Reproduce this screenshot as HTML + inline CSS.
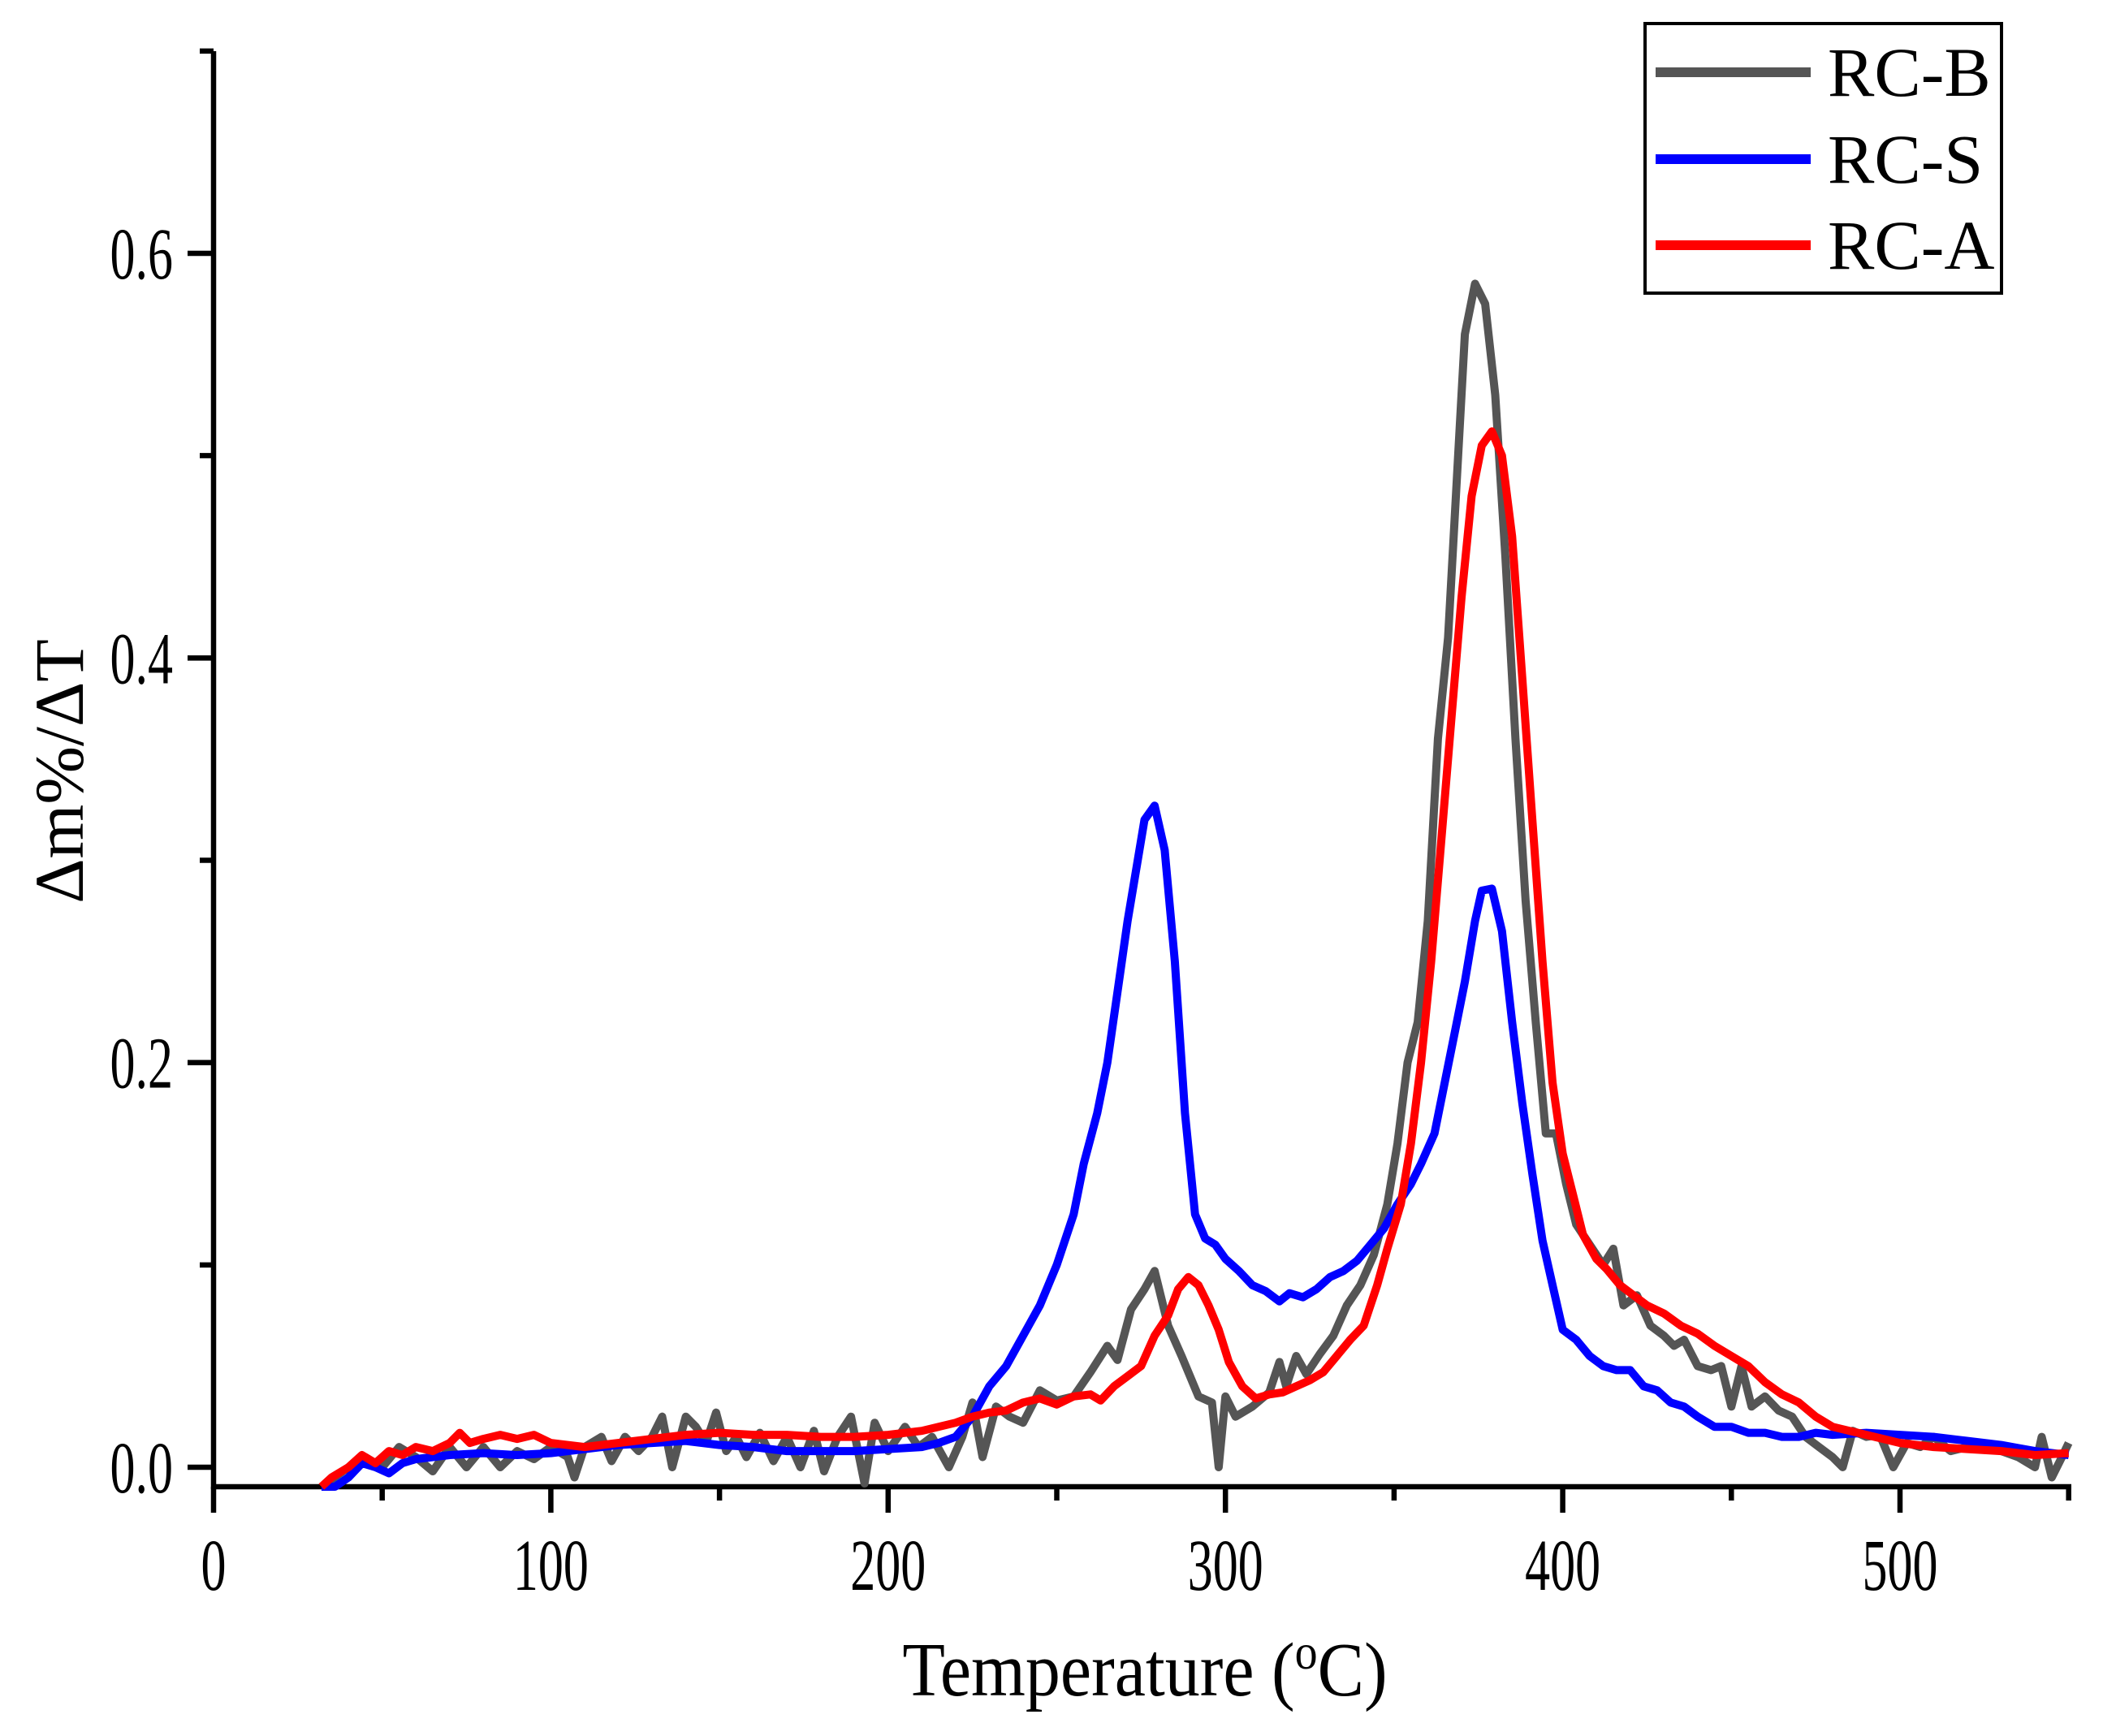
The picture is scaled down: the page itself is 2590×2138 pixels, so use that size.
<!DOCTYPE html>
<html><head><meta charset="utf-8"><style>
html,body{margin:0;padding:0;background:#fff;}
svg{display:block;}
text{font-family:"Liberation Serif",serif;fill:#000;}
</style></head><body>
<svg id="chart" width="2590" height="2138" viewBox="0 0 2590 2138" xmlns="http://www.w3.org/2000/svg">
<g id="axes"></g>
<g id="series"></g>
<g id="legend">
<rect x="2026" y="29" width="439" height="332" fill="#fff" stroke="#000" stroke-width="4"/>
<line x1="2039" y1="89" x2="2230" y2="89" stroke="#555" stroke-width="12"/>
<text x="2251" y="118" font-size="86">RC-B</text>
<line x1="2039" y1="196" x2="2230" y2="196" stroke="#0000ff" stroke-width="12"/>
<text x="2251" y="225" font-size="86">RC-S</text>
<line x1="2039" y1="302" x2="2230" y2="302" stroke="#ff0000" stroke-width="12"/>
<text x="2251" y="331" font-size="86">RC-A</text>
</g>
<text transform="translate(1410,2088) scale(1,1.1)" font-size="86" text-anchor="middle">Temperature (<tspan font-size="56" dy="-30">o</tspan><tspan dy="30">C)</tspan></text>
<text transform="translate(102,950) rotate(-90)" font-size="86" text-anchor="middle">Δm%/ΔT</text>
</svg>
<script>
const xTicks=[0,100,200,300,400,500];
const xMinor=[50,150,250,350,450,550];
const yTicks=[0.0,0.2,0.4,0.6];
const yTickLabels=["0.0","0.2","0.4","0.6"];
const yMinor=[0.1,0.3,0.5,0.7];
const tB=[32,40,45,50,55,60,65,70,75,80,85,90,95,100,105,107,110,115,118,122,126,130,133,136,140,143,146,149,152,155,158,162,166,170,174,178,181,185,189,193,196,200,205,209,213,218,222,225,228,232,236,240,245,250,255,260,265,268,272,276,279,283,287,292,296,298,300,303,308,313,316,318,321,324,328,332,336,340,344,348,351,354,357,360,363,366,369,371,374,377,380,383,386,389,392,395,398,401,404,408,412,415,418,422,426,430,433,436,440,444,447,450,453,456,460,464,468,472,476,480,483,486,490,494,498,502,506,510,515,520,525,530,535,540,542,545,548,550];
const vB=[-0.01,0.0,0.005,0.0,0.01,0.005,-0.002,0.01,0.0,0.01,0.0,0.008,0.004,0.01,0.005,-0.005,0.01,0.015,0.003,0.015,0.008,0.015,0.025,0.0,0.025,0.02,0.012,0.027,0.008,0.015,0.005,0.017,0.003,0.015,0.0,0.018,-0.002,0.015,0.025,-0.008,0.022,0.008,0.02,0.01,0.015,0.0,0.015,0.032,0.005,0.03,0.025,0.022,0.038,0.033,0.035,0.047,0.06,0.053,0.078,0.088,0.097,0.07,0.055,0.035,0.032,0.0,0.035,0.025,0.03,0.037,0.052,0.04,0.055,0.046,0.056,0.065,0.08,0.09,0.105,0.13,0.16,0.2,0.22,0.27,0.36,0.41,0.5,0.56,0.585,0.575,0.53,0.45,0.36,0.28,0.22,0.165,0.165,0.14,0.12,0.11,0.1,0.108,0.08,0.085,0.07,0.065,0.06,0.063,0.05,0.048,0.05,0.03,0.05,0.03,0.035,0.028,0.025,0.015,0.01,0.005,0.0,0.018,0.015,0.016,0.0,0.012,0.01,0.015,0.008,0.01,0.01,0.008,0.005,0.0,0.015,-0.005,0.005,0.012];
const tS=[32,36,40,44,48,52,56,60,65,70,80,90,100,110,120,130,140,150,160,170,180,190,200,210,215,220,225,230,235,240,245,250,255,258,262,265,268,271,274,276,279,282,285,288,291,294,297,300,304,308,312,316,319,323,327,331,335,339,343,347,351,355,358,362,365,368,371,374,376,379,382,385,388,391,394,397,400,404,408,412,416,420,424,428,432,436,440,445,450,455,460,465,470,475,480,490,500,510,520,530,540,550];
const vS=[-0.015,-0.01,-0.005,0.002,0.0,-0.003,0.002,0.004,0.005,0.006,0.007,0.006,0.007,0.009,0.011,0.012,0.013,0.011,0.01,0.008,0.008,0.008,0.009,0.01,0.012,0.015,0.025,0.04,0.05,0.065,0.08,0.1,0.125,0.15,0.175,0.2,0.235,0.27,0.3,0.32,0.327,0.305,0.25,0.175,0.125,0.113,0.11,0.103,0.097,0.09,0.087,0.082,0.086,0.084,0.088,0.094,0.097,0.102,0.11,0.118,0.13,0.14,0.15,0.165,0.19,0.215,0.24,0.27,0.285,0.286,0.265,0.22,0.18,0.145,0.112,0.09,0.068,0.063,0.055,0.05,0.048,0.048,0.04,0.038,0.032,0.03,0.025,0.02,0.02,0.017,0.017,0.015,0.015,0.017,0.016,0.017,0.016,0.015,0.013,0.011,0.008,0.006];
const tA=[32,35,40,44,48,52,56,60,65,70,73,76,80,85,90,95,100,110,120,130,140,150,160,170,180,190,200,210,215,220,225,230,235,240,245,250,255,260,263,267,271,275,279,283,286,289,292,295,298,301,305,309,313,317,321,325,329,333,337,341,345,348,352,355,358,361,364,367,370,373,376,379,382,385,388,391,394,397,400,403,406,410,413,417,421,425,430,435,440,445,450,455,460,465,470,475,480,485,490,500,510,520,530,540,550];
const vA=[-0.01,-0.005,0.0,0.006,0.002,0.008,0.006,0.01,0.008,0.012,0.017,0.012,0.014,0.016,0.014,0.016,0.012,0.01,0.012,0.014,0.016,0.017,0.016,0.016,0.015,0.015,0.016,0.018,0.02,0.022,0.025,0.027,0.028,0.032,0.034,0.031,0.035,0.036,0.033,0.04,0.045,0.05,0.065,0.075,0.088,0.094,0.09,0.08,0.068,0.052,0.04,0.034,0.036,0.037,0.04,0.043,0.047,0.055,0.063,0.07,0.09,0.108,0.13,0.16,0.2,0.25,0.31,0.37,0.43,0.48,0.505,0.512,0.5,0.46,0.39,0.32,0.25,0.19,0.155,0.135,0.115,0.103,0.098,0.09,0.085,0.08,0.076,0.07,0.066,0.06,0.055,0.05,0.042,0.036,0.032,0.025,0.02,0.018,0.016,0.012,0.01,0.009,0.008,0.006,0.007];

const NS="http://www.w3.org/2000/svg";
const L=263,R=2548,B=1831,T=63;
const X=v=>L+v*(2340-263)/500;
const Y=v=>1807-v*(1807-312)/0.6;
function mk(tag,attrs,parent){const e=document.createElementNS(NS,tag);for(const k in attrs)e.setAttribute(k,attrs[k]);parent.appendChild(e);return e;}
const ax=document.getElementById('axes');
let e=mk('line',{x1:L,y1:T,x2:L,y2:B+3,stroke:'#000','stroke-width':6.5},ax);


e=mk('line',{x1:L-3,y1:B,x2:R+3,y2:B,stroke:'#000','stroke-width':6.5},ax);


xTicks.forEach(v=>{
 mk('line',{x1:X(v),y1:B,x2:X(v),y2:B+32,stroke:'#000','stroke-width':6.5},ax);
 const t=mk('text',{transform:'translate('+X(v)+',1958) scale(1,1.45)','font-size':62,'text-anchor':'middle'},ax);
 t.textContent=v;
 
 
});
xMinor.forEach(v=>mk('line',{x1:X(v),y1:B,x2:X(v),y2:B+17,stroke:'#000','stroke-width':6.5},ax));
yTicks.forEach((v,i)=>{
 mk('line',{x1:L-32,y1:Y(v),x2:L,y2:Y(v),stroke:'#000','stroke-width':6.5},ax);
 const t=mk('text',{transform:'translate('+(L-50)+','+(Y(v)+31)+') scale(1,1.45)','font-size':62,'text-anchor':'end'},ax);
 t.textContent=yTickLabels[i];
 
 
});
yMinor.forEach(v=>mk('line',{x1:L-17,y1:Y(v),x2:L,y2:Y(v),stroke:'#000','stroke-width':6.5},ax));
const sg=document.getElementById('series');
function line(ts,vs,color,name){
 const d=ts.map((t,i)=>(i?'L':'M')+X(t).toFixed(1)+' '+Math.min(Y(vs[i]),B).toFixed(1)).join(' ');
 const p=mk('path',{d:d,fill:'none',stroke:color,'stroke-width':10,'stroke-linejoin':'round'},sg);
 
 
}
line(tB,vB,'#555555','series-rc-b');
line(tS,vS,'#0000ff','series-rc-s');
line(tA,vA,'#ff0000','series-rc-a');
</script>
</body></html>
